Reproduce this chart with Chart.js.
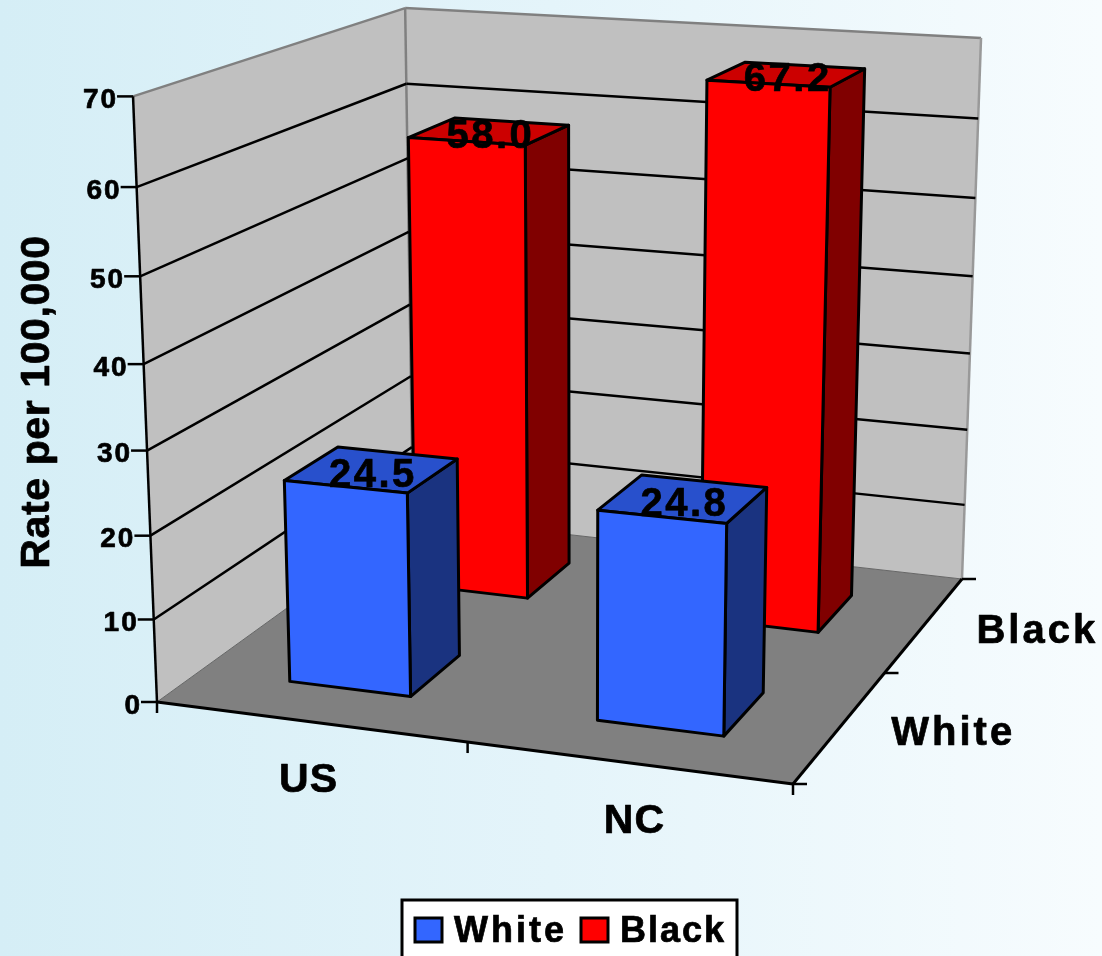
<!DOCTYPE html>
<html>
<head>
<meta charset="utf-8">
<title>Rate per 100,000</title>
<script src="https://cdn.jsdelivr.net/npm/chart.js@4/dist/chart.umd.js"></script>
<style>
  html, body { margin: 0; padding: 0; overflow: hidden; }
  body { width: 1102px; height: 956px; background: linear-gradient(to right, #d5eef6, #e4f4fa 50%, #f7fcfe); }
  canvas { display: block; }
</style>
</head>
<body>
<canvas id="chart" width="1102" height="956"></canvas>
<script>
var categories = ["US", "NC"];
var seriesNames = ["White", "Black"];
var whiteValues = [24.5, 24.8];
var blackValues = [58.0, 67.2];
var yTickStep = 10;
var yMax = 70;

var FONT = '"Liberation Sans", Arial, sans-serif';
var barShare = 0.398;
var barShift = -0.002;
var categoryLabelShift = [-2, 6];

// floor corners: front-left, front-right, back-right, back-left,
// where the vertical edges meet, and how fast they lean towards that point
var frame = {
    p00: [157, 702], p10: [793, 784], p11: [962, 579], p01: [413, 517],
    vanish: [581, 11416], k: -0.0535, kU: -0.0013, kZ: 0.0012
};

// perspective map from (u along categories, z into the depth, h up) to canvas pixels
function buildProjection(f) {
    var dx1 = f.p10[0] - f.p11[0], dx2 = f.p01[0] - f.p11[0], sx = f.p00[0] - f.p10[0] + f.p11[0] - f.p01[0];
    var dy1 = f.p10[1] - f.p11[1], dy2 = f.p01[1] - f.p11[1], sy = f.p00[1] - f.p10[1] + f.p11[1] - f.p01[1];
    var det = dx1 * dy2 - dy1 * dx2;
    var g = (sx * dy2 - sy * dx2) / det;
    var i = (dx1 * sy - dy1 * sx) / det;
    var ax = f.p10[0] - f.p00[0] + g * f.p10[0], ay = f.p10[1] - f.p00[1] + g * f.p10[1];
    var bx = f.p01[0] - f.p00[0] + i * f.p01[0], by = f.p01[1] - f.p00[1] + i * f.p01[1];
    return function (u, z, h) {
        var lean = (f.k + f.kU * u + f.kZ * z) * h;
        var w = g * u + i * z + lean + 1;
        return [(ax * u + bx * z + f.vanish[0] * lean + f.p00[0]) / w, (ay * u + by * z + f.vanish[1] * lean + f.p00[1]) / w];
    };
}
var project = buildProjection(frame);

function poly(ctx, pts, fill, stroke, width) {
    ctx.beginPath();
    pts.forEach(function (p, n) { n ? ctx.lineTo(p[0], p[1]) : ctx.moveTo(p[0], p[1]); });
    ctx.closePath();
    if (fill) { ctx.fillStyle = fill; ctx.fill(); }
    if (stroke) { ctx.strokeStyle = stroke; ctx.lineWidth = width; ctx.stroke(); }
}

function line(ctx, a, b, color, width) {
    ctx.beginPath();
    ctx.moveTo(a[0], a[1]);
    ctx.lineTo(b[0], b[1]);
    ctx.strokeStyle = color;
    ctx.lineWidth = width;
    ctx.stroke();
}

function label(ctx, text, x, y, size, spacing, align) {
    ctx.font = "bold " + size + "px " + FONT;
    ctx.letterSpacing = spacing + "px";
    ctx.textAlign = align || "center";
    ctx.textBaseline = "middle";
    ctx.fillStyle = "#000";
    ctx.fillText(text, x, y);
    // a thin outline makes the bold a little heavier
    ctx.strokeStyle = "#000";
    ctx.lineWidth = 0.7;
    ctx.strokeText(text, x, y);
}

// position of a scale value as a 0..1 share of the scale's length
function share(scale, value) {
    return scale.getDecimalForPixel(scale.getPixelForValue(value));
}

// walls, floor, grid lines and axis labels
var boxPlugin = {
    id: "box3d",
    beforeDatasetsDraw: function (chart) {
        var ctx = chart.ctx, y = chart.scales.y, z = chart.scales.z;
        ctx.save();
        ctx.lineJoin = "round";

        poly(ctx, [project(0, 0, 0), project(0, 1, 0), project(0, 1, 1), project(0, 0, 1)], "#c0c0c0");
        poly(ctx, [project(0, 1, 0), project(1, 1, 0), project(1, 1, 1), project(0, 1, 1)], "#c0c0c0");
        poly(ctx, [project(0, 0, 0), project(1, 0, 0), project(1, 1, 0), project(0, 1, 0)], "#808080");

        line(ctx, project(0, 0, 1), project(0, 1, 1), "#808080", 2.5);
        line(ctx, project(0, 1, 1), project(1, 1, 1), "#808080", 2.5);
        line(ctx, project(0, 1, 1), project(0, 1, 0), "#808080", 2.5);
        line(ctx, project(1, 1, 1), project(1, 1, 0), "#999", 2.5);
        line(ctx, project(0, 0, 0), project(0, 1, 0), "#666", 1);
        line(ctx, project(0, 1, 0), project(1, 1, 0), "#666", 1);

        y.ticks.forEach(function (tick) {
            var h = share(y, tick.value);
            var front = project(0, 0, h), back = project(0, 1, h);
            if (tick.value > 0 && tick.value < yMax) {
                line(ctx, front, back, "#000", 2.5);
                line(ctx, back, project(1, 1, h), "#000", 2.5);
            }
            line(ctx, [front[0] - 16, front[1]], front, "#000", 2.5);
            label(ctx, String(tick.value), front[0] - 15, front[1] + 4, 28, 2, "right");
        });

        line(ctx, project(0, 0, 0), project(0, 0, 1), "#000", 2.5);
        line(ctx, project(0, 0, 0), project(1, 0, 0), "#000", 3);
        line(ctx, project(1, 0, 0), project(1, 1, 0), "#000", 3);

        // ticks between the categories along the front edge
        for (var n = 0; n <= categories.length; n++) {
            var a = project(n / categories.length, 0, 0);
            line(ctx, a, [a[0], a[1] + 11], "#000", 2.5);
        }
        // and between the series along the right edge
        for (var m = 0; m <= seriesNames.length; m++) {
            var b = project(1, m / seriesNames.length, 0);
            line(ctx, b, [b[0] + 14, b[1]], "#000", 2.5);
        }

        categories.forEach(function (name, n) {
            var p = project(share(chart.scales.x, n), 0, 0);
            label(ctx, name, p[0] + categoryLabelShift[n], p[1] + 58.5, 41, 1);
        });
        seriesNames.forEach(function (name, n) {
            var p = project(1, share(z, n), 0);
            label(ctx, name, p[0] + 112.5, p[1] + 8, 40, 3);
        });

        ctx.translate(38, 402);
        ctx.rotate(-Math.PI / 2);
        label(ctx, "Rate per 100,000", 0, 0, 41, 0.6);
        ctx.restore();
    },

    // each bar is a box: right side, top and front face, then its value on the top face
    beforeDatasetDraw: function (chart, args) {
        var ctx = chart.ctx, x = chart.scales.x, y = chart.scales.y, z = chart.scales.z;
        var ds = chart.data.datasets[args.index];
        var zc = share(z, seriesNames.indexOf(ds.label));
        var zHalf = barShare / seriesNames.length / 2;

        ctx.save();
        ctx.lineJoin = "round";
        args.meta.data.forEach(function (bar, n) {
            var uHalf = bar.width / x.width / 2;
            var u0 = x.getDecimalForPixel(bar.x) + barShift - uHalf, u1 = u0 + 2 * uHalf;
            var z0 = zc - zHalf, z1 = zc + zHalf;
            var h = y.getDecimalForPixel(bar.y);
            var b = y.getDecimalForPixel(bar.base);

            poly(ctx, [project(u1, z0, b), project(u1, z1, b), project(u1, z1, h), project(u1, z0, h)], ds.sideColor, "#000", 3);
            poly(ctx, [project(u0, z0, h), project(u1, z0, h), project(u1, z1, h), project(u0, z1, h)], ds.topColor, "#000", 3);
            poly(ctx, [project(u0, z0, b), project(u1, z0, b), project(u1, z0, h), project(u0, z0, h)], ds.backgroundColor, "#000", 3);

            var mid = project((u0 + u1) / 2, zc, h);
            label(ctx, ds.data[n].toFixed(1), mid[0] + 1, mid[1] + 6, 40, 2.5);
        });
        ctx.restore();
        return false;
    },

    // legend frame runs off the bottom edge of the canvas
    afterDatasetsDraw: function (chart) {
        var ctx = chart.ctx;
        ctx.save();
        poly(ctx, [[402, 900], [737, 900], [737, 970], [402, 970]], "#fff", "#000", 3);
        var swatchX = [415, 581], textX = [454, 620], textSpacing = [3, 2];
        chart.data.datasets.forEach(function (ds, n) {
            ctx.lineJoin = "miter";
            poly(ctx, [[swatchX[n], 918], [swatchX[n] + 27, 918], [swatchX[n] + 27, 942], [swatchX[n], 942]], ds.backgroundColor, "#000", 3);
            label(ctx, ds.label, textX[n], 932, 36, textSpacing[n], "left");
        });
        ctx.restore();
    }
};

new Chart(document.getElementById("chart"), {
    type: "bar",
    data: {
        labels: categories,
        datasets: [
            { label: seriesNames[0], data: whiteValues, backgroundColor: "#3366ff", topColor: "#2850cc", sideColor: "#1a3380" },
            { label: seriesNames[1], data: blackValues, backgroundColor: "#ff0000", topColor: "#cc0000", sideColor: "#800000" }
        ]
    },
    options: {
        responsive: false,
        animation: false,
        events: [],
        datasets: { bar: { grouped: false, barPercentage: barShare, categoryPercentage: 1 } },
        plugins: { legend: { display: false }, title: { display: false }, tooltip: { enabled: false } },
        scales: {
            x: { display: false, offset: true },
            y: { display: false, min: 0, max: yMax, ticks: { stepSize: yTickStep } },
            z: { axis: "x", type: "category", labels: seriesNames, display: false, offset: true }
        }
    },
    plugins: [boxPlugin]
});
</script>
</body>
</html>
